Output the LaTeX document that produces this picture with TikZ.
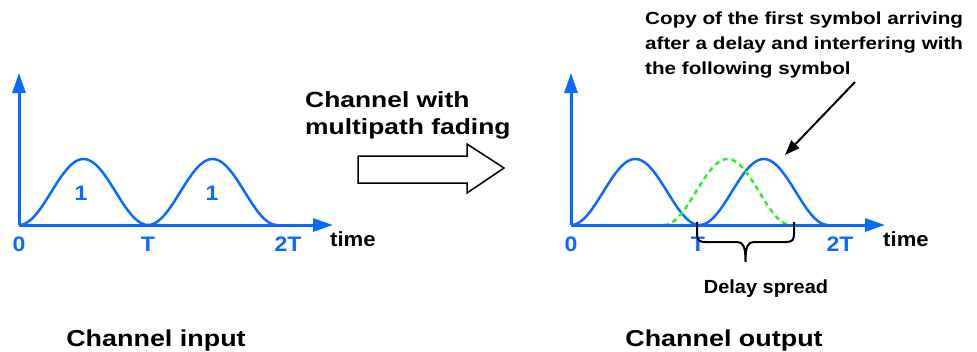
\documentclass[tikz,border=0pt]{standalone}
\usepackage{fontspec}
\setmainfont{Liberation Sans}
\usetikzlibrary{arrows.meta}
\definecolor{sigblue}{RGB}{10,105,255}
\definecolor{siggreen}{RGB}{40,240,40}
\begin{document}
\begin{tikzpicture}[x=1pt,y=-1pt,
  axis/.style={sigblue, line width=3pt, -{Triangle[length=20pt,width=13pt]}},
  pulse/.style={sigblue, line width=2.5pt},
  echo/.style={siggreen, line width=2.5pt, dash pattern=on 5pt off 4pt},
  lbl/.style={text=sigblue, inner sep=0pt, xscale=1.1, font=\fontsize{21}{24}\selectfont\bfseries},
  tlbl/.style={text=black, inner sep=0pt, xscale=1.08, font=\fontsize{20.5}{24}\selectfont\bfseries},
  captext/.style={text=black, inner sep=0pt, xscale=1.17, font=\fontsize{23}{27}\selectfont\bfseries},
  note/.style={text=black, inner sep=0pt, align=left},
  brace/.style={black, line width=2pt},
  pointer/.style={black, line width=2pt, -{Triangle[length=15pt,width=11pt]}},
  blockarrow/.style={black, line width=1.5pt, fill=white}
]
\useasboundingbox (0,0) rectangle (977,351);

% ---------- left plot ----------
\draw[pulse] plot[domain=0:1, samples=60] ({19+129*\x},{225-33*(1-cos(360*\x))});
\draw[pulse] plot[domain=0:1, samples=60] ({148+129*\x},{225-33*(1-cos(360*\x))});
\coordinate (lo) at (19,225);
\coordinate (ly) at (19,73);
\coordinate (lx) at (333,225);
\draw[axis] (lo) -- (ly);
\draw[axis] (lo) -- (lx);
\node[lbl, anchor=base] (l0) at (19,251) {0};
\node[lbl, anchor=base] (lT) at (148,251) {T};
\node[lbl, anchor=base] (l2T) at (288,251) {2T};
\node[tlbl, anchor=base west] (ltime) at (330,246) {time};
\node[lbl, anchor=base] (lone) at (81,200) {1};
\node[lbl, anchor=base] (ltwo) at (212,200) {1};
\node[captext, anchor=base] (cin) at (156,346) {Channel input};

% ---------- channel arrow ----------
\draw[blockarrow] (358,156) -- (467,156) -- (467,144) -- (504,168) -- (467,193) -- (467,183) -- (358,183) -- cycle;
\node[note, xscale=1.2, anchor=north west, font=\fontsize{22}{27.5}\selectfont\bfseries] (chan) at (305,91) {Channel with\\multipath fading};

% ---------- right plot ----------
\draw[pulse] plot[domain=0:1, samples=60] ({571+128.5*\x},{225-33*(1-cos(360*\x))});
\draw[pulse] plot[domain=0:1, samples=60] ({699.5+128.5*\x},{225-33*(1-cos(360*\x))});
\draw[echo] plot[domain=0:1, samples=60] ({664+127*\x},{225-33*(1-cos(360*\x))});
\coordinate (ro) at (571,225);
\coordinate (ry) at (571,73);
\coordinate (rx) at (885,225);
\draw[axis] (ro) -- (ry);
\draw[axis] (ro) -- (rx);
\node[lbl, anchor=base] (r0) at (571,251) {0};
\node[lbl, anchor=base] (rT) at (698,251) {T};
\node[lbl, anchor=base] (r2T) at (840,251) {2T};
\node[tlbl, anchor=base west] (rtime) at (883,246) {time};
\node[captext, anchor=base] (cout) at (724,346) {Channel output};

% brace
\draw[brace] (697,222) -- (697,234) .. controls (697,240) and (699,242) .. (705,242) -- (737,242)
  .. controls (743,242) and (745.5,246) .. (745.5,262)
  .. controls (745.5,246) and (748,242) .. (754,242) -- (786,242)
  .. controls (792,242) and (794,240) .. (794,234) -- (794,222);
\node[text=black, inner sep=0pt, anchor=base, xscale=1.05, font=\fontsize{19}{22}\selectfont\bfseries] (dspread) at (766,293) {Delay spread};

% annotation
\node[note, xscale=1.18, anchor=north west, font=\fontsize{17.5}{25}\selectfont\bfseries] (copy) at (645,12) {Copy of the first symbol arriving\\after a delay and interfering with\\the following symbol};
\coordinate (ps) at (855,82);
\coordinate (pe) at (785,155);
\draw[pointer] (ps) -- (pe);
\end{tikzpicture}
\end{document}
